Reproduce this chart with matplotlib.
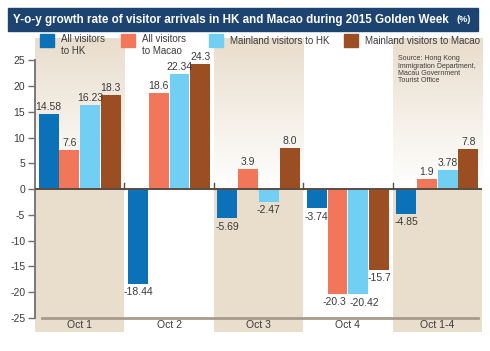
import numpy as np
import matplotlib.pyplot as plt
from matplotlib.colors import LinearSegmentedColormap
from matplotlib.patches import Rectangle

plt.rcParams['font.family'] = ['Liberation Sans', 'DejaVu Sans']
plt.rcParams['axes.unicode_minus'] = False

days = ["Oct 1", "Oct 2", "Oct 3", "Oct 4", "Oct 1-4"]
series = ["All visitors\nto HK", "All visitors\nto Macao",
          "Mainland visitors to HK", "Mainland visitors to Macao"]
all_hk = [14.58, -18.44, -5.69, -3.74, -4.85]
all_macao = [7.6, 18.6, 3.9, -20.3, 1.9]
main_hk = [16.23, 22.34, -2.47, -20.42, 3.78]
main_macao = [18.3, 24.3, 8.0, -15.7, 7.8]
labels = [["14.58", "-18.44", "-5.69", "-3.74", "-4.85"],
          ["7.6", "18.6", "3.9", "-20.3", "1.9"],
          ["16.23", "22.34", "-2.47", "-20.42", "3.78"],
          ["18.3", "24.3", "8.0", "-15.7", "7.8"]]
colors = ["#0b72b9", "#f2775a", "#72cff4", "#9c4e23"]
beige = "#e9ddcc"
ink = "#3a3a3a"

fig = plt.figure(figsize=(4.9, 3.51), dpi=100)
ax = fig.add_axes([35 / 490, 1 - 332 / 351, 447 / 490, 294 / 351])
ymin, ymax = -27.7, 29.3
ax.set_xlim(-0.5, 4.5)
ax.set_ylim(ymin, ymax)

# shaded columns: gradient above zero, flat beige below
grad = LinearSegmentedColormap.from_list("g", ["white", beige])
for i in (0, 2, 4):
    g = np.linspace(0, 1, 100).reshape(-1, 1)
    ax.imshow(g, cmap=grad, aspect="auto", extent=[i - 0.5, i + 0.5, ymax, 0],
              zorder=0)
    ax.add_patch(Rectangle((i - 0.5, ymin), 1, -ymin, color=beige, lw=0, zorder=0))

x = np.arange(len(days))
w = 0.222
nudge = {(1, 3): -0.03, (2, 3): 0.07}  # keep the two Oct 4 labels apart
for k, vals in enumerate([all_hk, all_macao, main_hk, main_macao]):
    pos = x + (k - 1.5) * 0.232
    ax.bar(pos, vals, w, color=colors[k], zorder=2)
    for j, (p, v, t) in enumerate(zip(pos, vals, labels[k])):
        ax.text(p + nudge.get((k, j), 0), v + (0.4 if v > 0 else -0.6), t,
                ha="center", va="bottom" if v > 0 else "top", fontsize=7.5,
                color=ink, zorder=3)

ax.axhline(0, color="#5b4c42", lw=1.4, zorder=3)
for b in [0.5, 1.5, 2.5, 3.5]:
    ax.plot([b, b], [0, 1.2], color="#5b4c42", lw=1, zorder=3)
ax.plot([-0.42, 4.46], [-25, -25], color="#a89a8c", lw=2, zorder=3)
for i, d in enumerate(days):
    ax.text(i, -26.3, d, ha="center", va="center", fontsize=7.5, color=ink)

for s in ["top", "right", "bottom"]:
    ax.spines[s].set_visible(False)
ax.spines["left"].set_bounds(-25, 25)
ax.spines["left"].set_color("#707070")
ax.spines["left"].set_linewidth(1.3)
ax.set_yticks(range(-25, 26, 5))
ax.set_xticks([])
ax.tick_params(axis="y", length=5, width=1, color="#707070", labelsize=7.5,
               labelcolor=ink, pad=2)

# title bar
fig.patches.append(Rectangle((8 / 490, 1 - 31 / 351), 470 / 490, 23 / 351,
                             transform=fig.transFigure, color="#1d4470", zorder=0))
fig.text(13 / 490, 1 - 19.5 / 351,
         "Y-o-y growth rate of visitor arrivals in HK and Macao during 2015 Golden Week",
         color="white", fontsize=8.4, fontweight="bold", va="center", ha="left")
fig.text(471 / 490, 1 - 20 / 351, "(%)", color="white", fontsize=6.5,
         fontweight="bold", va="center", ha="right")

# legend
lx = [40, 121, 209, 344]
for k in range(4):
    fig.patches.append(Rectangle((lx[k] / 490, 1 - 47 / 351), 14 / 490, 13 / 351,
                                 transform=fig.transFigure, color=colors[k]))
    fig.text((lx[k] + 21) / 490, 1 - (41 if k > 1 else 45) / 351, series[k],
             fontsize=7, color=ink, va="center", ha="left", linespacing=1.15)

fig.text(398 / 490, 1 - 55 / 351,
         "Source: Hong Kong\nImmigration Department,\nMacau Government\nTourist Office",
         fontsize=5, color="#3a3a3a", va="top", ha="left", linespacing=1.1)

fig.savefig("out.png", dpi=100)
